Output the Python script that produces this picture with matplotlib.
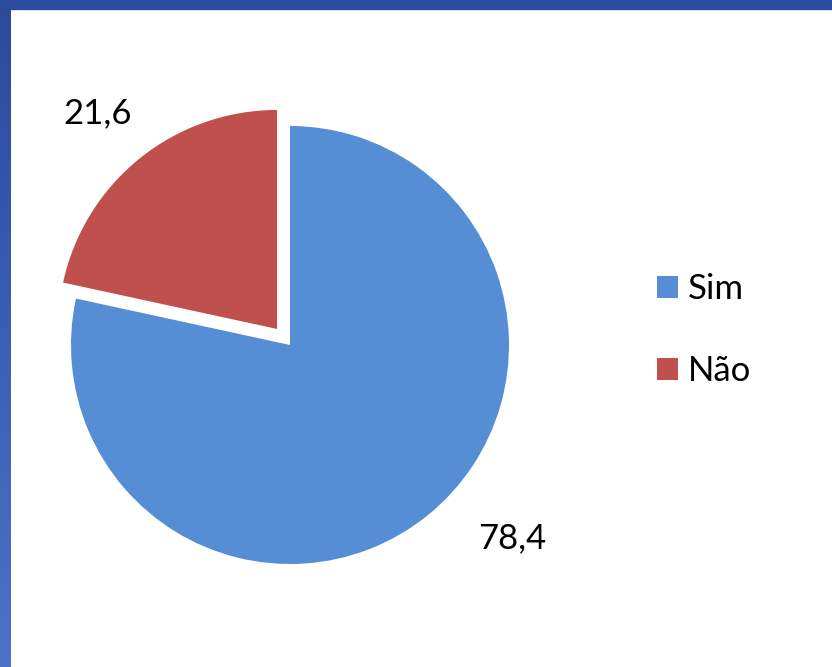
import numpy as np
import matplotlib
matplotlib.use("Agg")
import matplotlib.pyplot as plt
from matplotlib.patches import Rectangle

# dados
categorias = ["Sim", "Não"]
valores = [78.4, 21.6]
rotulos = ["78,4", "21,6"]
cores = ["#558ED5", "#C0504D"]
explode = [0, 0.094]

plt.rcParams["font.family"] = ["Lato", "DejaVu Sans"]

W, H = 832, 667
fig = plt.figure(figsize=(W / 100, H / 100), dpi=100)
fig.patch.set_facecolor("white")

# moldura azul (topo e lado esquerdo com degradê)
gax = fig.add_axes([0, 0, 11 / W, 1])
grad = np.linspace(0, 1, 256).reshape(-1, 1)
cmap = matplotlib.colors.LinearSegmentedColormap.from_list("b", ["#2B4A9B", "#4A73C9"])
gax.imshow(grad, aspect="auto", cmap=cmap, extent=[0, 1, 1, 0])
gax.axis("off")
fig.add_artist(Rectangle((0, 1 - 9 / H), 1, 9 / H, transform=fig.transFigure,
                         color="#2B4B9C", zorder=5))

# pizza: centro (290, 345) px, raio 219 px
r = 219
ax = fig.add_axes([0, 0, 1, 1])
wedges, _ = ax.pie(valores, colors=cores, startangle=90, counterclock=False,
                   explode=explode, radius=1,
                   wedgeprops=dict(linewidth=0))
ax.set_xlim(-290 / r, (W - 290) / r)
ax.set_ylim((345 - H) / r, 345 / r)
ax.set_aspect("auto")
ax.axis("off")

# rótulos de dados
pos_rotulos = [(1.014, -0.881), (-0.877, 1.059)]
for txt, (x, y) in zip(rotulos, pos_rotulos):
    ax.text(x, y, txt, ha="center", va="center", fontsize=25, color="black")

leg = fig.legend(wedges, categorias, loc="center left",
                 bbox_to_anchor=(657 / W, 1 - 330 / H), frameon=False,
                 fontsize=25, handlelength=0.6, handleheight=0.6,
                 handletextpad=0.3, labelspacing=1.45,
                 borderpad=0, borderaxespad=0)

fig.savefig("out.png", dpi=100, facecolor="white")
